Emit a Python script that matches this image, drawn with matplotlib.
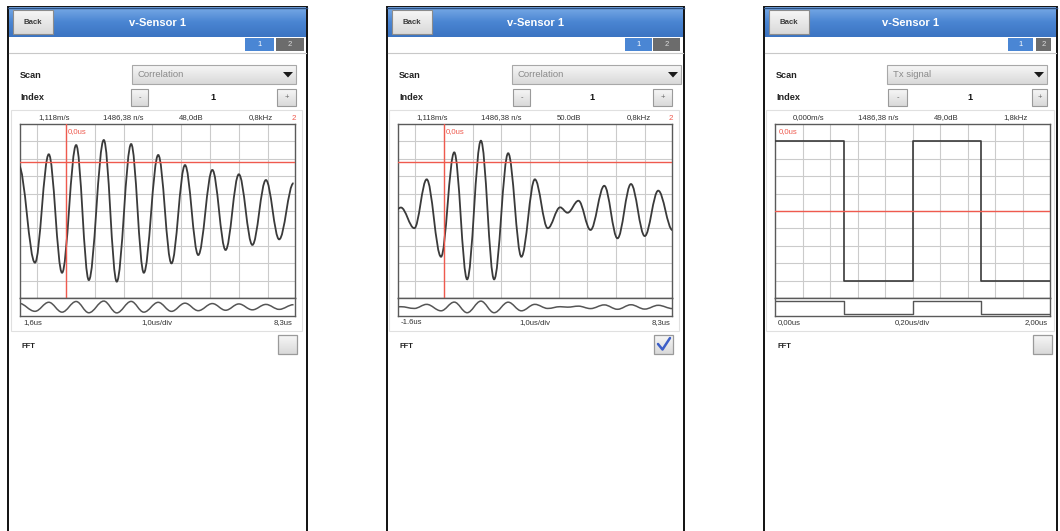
import matplotlib
matplotlib.use("Agg")
import matplotlib.pyplot as plt
import numpy as np
from matplotlib.patches import Rectangle, FancyBboxPatch, Polygon, PathPatch
from matplotlib.path import Path
from matplotlib.colors import LinearSegmentedColormap

plt.rcParams['font.family'] = ['Liberation Sans', 'DejaVu Sans']

# ---- data ----
scan_modes = ["Correlation", "Correlation", "Tx signal"]
index_values = ["1", "1", "1"]
top_labels = [
    ["1,118m/s", "1486,38 n/s", "48,0dB", "0,8kHz"],
    ["1,118m/s", "1486,38 n/s", "50.0dB", "0,8kHz"],
    ["0,000m/s", "1486,38 n/s", "49,0dB", "1,8kHz"],
]
channel_marks = ["2", "2", ""]
bottom_labels = [
    ["1,6us", "1,0us/div", "8,3us"],
    ["-1.6us", "1,0us/div", "8,3us"],
    ["0,00us", "0,20us/div", "2,00us"],
]
fft_checked = [False, True, False]
cursor_label = "0,0us"
cursor_level = [2.83, 2.83, 0.0]

# correlation trace, FFT off: extrema (time in us, amplitude in divisions)
corr_t = [-1.64, -1.08, -0.60, -0.14, 0.35, 0.79, 1.31, 1.76, 2.26, 2.70,
          3.20, 3.66, 4.13, 4.59, 5.08, 5.54, 6.00, 6.47, 6.94, 7.40, 7.90]
corr_v = [2.60, -2.97, 3.26, -3.55, 3.79, -3.97, 4.08, -4.06, 3.85, -3.55,
          3.22, -3.01, 2.64, -2.53, 2.36, -2.24, 2.11, -1.95, 1.78, -1.63, 1.60]

# correlation trace, FFT on
corr_fft_t = [-1.62, -1.50, -1.03, -0.60, -0.10, 0.36, 0.81, 1.29, 1.75, 2.24,
              2.70, 3.17, 3.62, 4.05, 4.31, 4.69, 5.11, 5.59, 6.05, 6.52,
              7.00, 7.47, 7.97]
corr_fft_v = [0.12, 0.20, -0.99, 1.82, -2.63, 3.37, -3.93, 4.04, -3.93, 3.32,
              -2.63, 1.82, -0.99, 0.21, -0.10, 0.59, -1.09, 1.45, -1.57, 1.55,
              -1.44, 1.17, -1.10]

# Tx signal: edge times (us) and levels (divisions)
tx_edges = [0.0, 0.5, 1.0, 1.5, 2.0]
tx_levels = [4.0, -4.0, 4.0, -4.0]

# ---- layout (pixels) ----
W, H = 1060, 531
panels = [
    dict(L=8, R=307, FL=20, FR=295, drop=(132, 296), minus=(131, 148),
         plus=(277, 296), tab1=(245, 274), tab2=(276, 304), check=(278, 297)),
    dict(L=387, R=684, FL=398, FR=672, drop=(512, 681), minus=(513, 530),
         plus=(653, 672), tab1=(625, 652), tab2=(653, 680), check=(654, 673)),
    dict(L=764, R=1057, FL=775, FR=1050, drop=(887, 1047), minus=(888, 907),
         plus=(1032, 1047), tab1=(1008, 1033), tab2=(1036, 1051), check=(1033, 1052)),
]
plot_top, plot_bot, strip_bot = 124, 298, 316

trace_col = '#3a3a3a'
grid_col = '#cbcbcb'
frame_col = '#5a5a5a'
red = '#ef5a4e'

fig = plt.figure(figsize=(W / 100, H / 100), dpi=100)
ui = fig.add_axes([0, 0, 1, 1])
ui.axis('off')

head_cmap = LinearSegmentedColormap.from_list('head', ['#78aae6', '#4a85d2', '#3b74c2'])
btn_cmap = LinearSegmentedColormap.from_list('btn', ['#f7f7f7', '#d9d9d9'])
grad = np.linspace(0, 1, 64).reshape(-1, 1)


def smooth_path(t, v, k=0.3634):
    verts = [(t[0], v[0])]
    codes = [Path.MOVETO]
    for i in range(1, len(t)):
        dt = t[i] - t[i - 1]
        verts += [(t[i - 1] + k * dt, v[i - 1]), (t[i] - k * dt, v[i]), (t[i], v[i])]
        codes += [Path.CURVE4] * 3
    return Path(verts, codes)


def style_axes(ax):
    ax.set_facecolor('white')
    ax.tick_params(length=0, labelbottom=False, labelleft=False)
    for s in ax.spines.values():
        s.set_color(frame_col)
        s.set_linewidth(1.0)


def add_axes_px(x0, x1, y0, y1):
    return fig.add_axes([x0 / W, 1 - y1 / H, (x1 - x0) / W, (y1 - y0) / H])


traces = [(corr_t, corr_v), (corr_fft_t, corr_fft_v), None]

for i, p in enumerate(panels):
    L, R, FL, FR = p['L'], p['R'], p['FL'], p['FR']

    # phone body
    ui.add_patch(Rectangle((L, 7), R - L, H, fc='white', ec='#111111', lw=1.4, zorder=1))
    ui.imshow(grad, cmap=head_cmap, extent=(L + 1, R - 1, 37, 7), aspect='auto', zorder=2)
    ui.plot([L, R], [7.5, 7.5], color='#2c4f80', lw=1, zorder=3)

    # back button + title
    ui.imshow(grad, cmap=btn_cmap, extent=(L + 5, L + 45, 34, 10), aspect='auto', zorder=3)
    ui.add_patch(Rectangle((L + 5, 10), 40, 24, fc='none', ec='#8c8c8c', lw=0.8, zorder=4))
    ui.text(L + 25, 22, "Back", ha='center', va='center', fontsize=5.6,
            fontweight='bold', color='#3a3a3a', zorder=5)
    ui.text((L + R) / 2, 22.5, "v-Sensor 1", ha='center', va='center', fontsize=8,
            fontweight='bold', color='white', zorder=5)

    # tabs
    t1, t2 = p['tab1'], p['tab2']
    ui.add_patch(Rectangle((t1[0], 38), t1[1] - t1[0], 13, fc='#4a86d4', ec='none', zorder=3))
    ui.add_patch(Rectangle((t2[0], 38), t2[1] - t2[0], 13, fc='#6c6c6c', ec='none', zorder=3))
    ui.text(sum(t1) / 2, 44.5, "1", ha='center', va='center', fontsize=5.5, color='white', zorder=4)
    ui.text(sum(t2) / 2, 44.5, "2", ha='center', va='center', fontsize=5.5, color='#dddddd', zorder=4)
    ui.plot([L + 1, R - 1], [53, 53], color='#c8c8c8', lw=0.8, zorder=3)

    # scan row
    ui.text(L + 12, 75, "Scan", ha='left', va='center', fontsize=6.6, fontweight='bold',
            color='#222222', zorder=4)
    d0, d1 = p['drop']
    ui.imshow(grad, cmap=btn_cmap, extent=(d0, d1, 84, 65), aspect='auto', zorder=3)
    ui.add_patch(Rectangle((d0, 65), d1 - d0, 19, fc='none', ec='#a8a8a8', lw=0.8, zorder=4))
    ui.text(d0 + 6, 74.5, scan_modes[i], ha='left', va='center', fontsize=6.8,
            color='#8a8a8a', zorder=5)
    ui.add_patch(Polygon([(d1 - 13, 72), (d1 - 3, 72), (d1 - 8, 77.5)],
                         closed=True, fc='#1a1a1a', ec='none', zorder=5))

    # index row
    ui.text(L + 12, 98, "Index", ha='left', va='center', fontsize=6.6, fontweight='bold',
            color='#222222', zorder=4)
    for (b0, b1), sign in ((p['minus'], "-"), (p['plus'], "+")):
        ui.imshow(grad, cmap=btn_cmap, extent=(b0, b1, 106, 89), aspect='auto', zorder=3)
        ui.add_patch(Rectangle((b0, 89), b1 - b0, 17, fc='none', ec='#9a9a9a', lw=0.8, zorder=4))
        ui.text((b0 + b1) / 2, 97.5, sign, ha='center', va='center', fontsize=5.5,
                color='#666666', zorder=5)
    ui.text((p['minus'][1] + p['plus'][0]) / 2, 98, index_values[i], ha='center',
            va='center', fontsize=6.5, fontweight='bold', color='#111111', zorder=4)

    # scope container and labels
    box_r = min(FR + 7, R - 3)
    ui.add_patch(Rectangle((FL - 9, 110), box_r - (FL - 9), 221, fc='white', ec='#e0e0e0',
                           lw=0.8, zorder=2))
    for off, lab in zip([34, 103, 171, 241], top_labels[i]):
        ui.text(FL + off, 118, lab, ha='center', va='center', fontsize=5.6,
                color='#333333', zorder=4)
    if channel_marks[i]:
        ui.text(FR - 1, 118, channel_marks[i], ha='center', va='center', fontsize=5.8,
                color=red, zorder=4)
    bl = bottom_labels[i]
    ui.text(FL + 3, 322.5, bl[0], ha='left', va='center', fontsize=5.6, color='#333333', zorder=4)
    ui.text(FL + 137, 322.5, bl[1], ha='center', va='center', fontsize=5.6, color='#333333', zorder=4)
    ui.text(FR - 2, 322.5, bl[2], ha='right', va='center', fontsize=5.6, color='#333333', zorder=4)

    # FFT row
    ui.text(L + 13, 347, "FFT", ha='left', va='center', fontsize=5.5, fontweight='bold',
            color='#222222', zorder=4)
    c0, c1 = p['check']
    ui.imshow(grad, cmap=btn_cmap, extent=(c0, c1, 354, 335), aspect='auto', zorder=3)
    ui.add_patch(Rectangle((c0, 335), c1 - c0, 19, fc='none', ec='#9a9a9a', lw=0.9, zorder=4))
    if fft_checked[i]:
        ui.plot([c0 + 4, c0 + 8.5, c1 - 3], [344, 349.5, 338], color='#3d5fc8', lw=1.8,
                solid_capstyle='round', zorder=5)

    # main scope axes + overview strip
    ax = add_axes_px(FL, FR, plot_top, plot_bot)
    sx = add_axes_px(FL, FR, plot_bot, strip_bot)
    style_axes(ax)
    style_axes(sx)
    ax.set_ylim(-5, 5)
    ax.set_yticks(np.arange(-4, 5))
    if traces[i] is not None:
        t, v = traces[i]
        ax.set_xlim(-1.6, 7.95)
        ax.set_xticks(np.arange(-1, 8))
        ax.grid(True, color=grid_col, lw=0.8)
        ax.add_patch(PathPatch(smooth_path(t, v), fill=False, ec=trace_col, lw=1.3, zorder=3))
        ax.axvline(0, color=red, lw=1.0, zorder=4)
        ax.text(0.05, 4.55, cursor_label, ha='left', va='center', fontsize=5.6, color=red, zorder=5)
        sx.set_xlim(-1.6, 7.95)
        sx.set_ylim(-6.2, 6.2)
        sx.add_patch(PathPatch(smooth_path(t, v), fill=False, ec='#555555', lw=1.1))
    else:
        ax.set_xlim(0, 2.0)
        ax.set_xticks(np.arange(0.2, 2.0, 0.2))
        ax.grid(True, color=grid_col, lw=0.8)
        step_y = tx_levels + [tx_levels[-1]]
        ax.step(tx_edges, step_y, where='post', color=trace_col, lw=1.2, zorder=3)
        ax.text(0.03, 4.55, cursor_label, ha='left', va='center', fontsize=5.6, color=red, zorder=5)
        sx.set_xlim(0, 2.0)
        sx.set_ylim(-5.3, 5.9)
        sx.step(tx_edges, step_y, where='post', color='#555555', lw=1.0)
    ax.axhline(cursor_level[i], color=red, lw=1.0, zorder=4)
    sx.set_xticks([])
    sx.set_yticks([])

ui.set_xlim(0, W)
ui.set_ylim(H, 0)

fig.savefig("out.png", dpi=100, facecolor='white')
